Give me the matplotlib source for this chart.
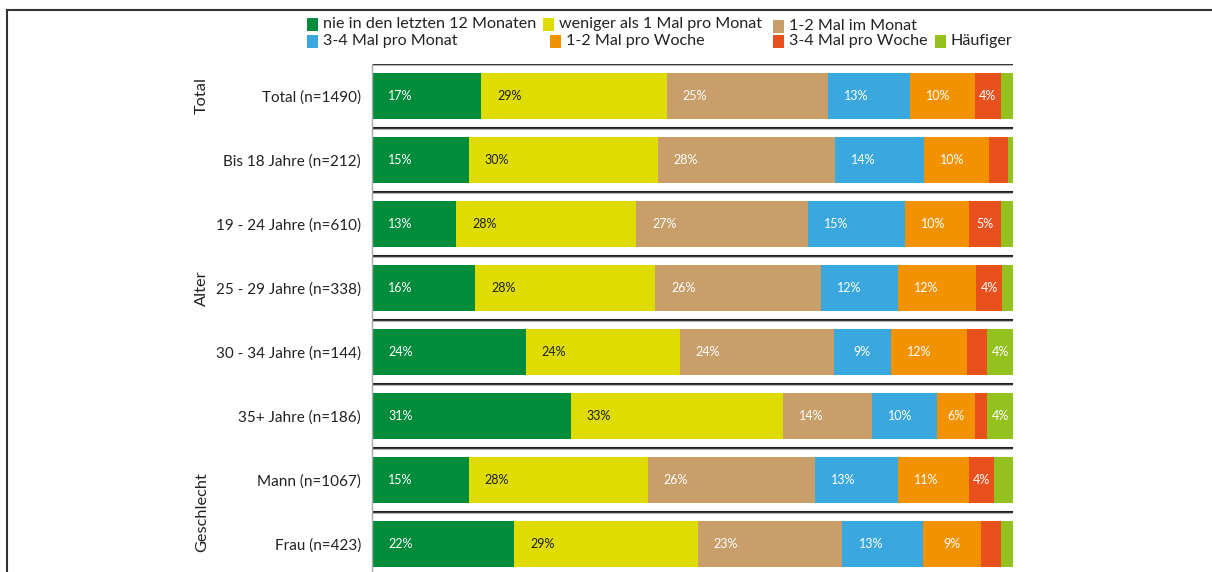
import matplotlib.pyplot as plt
from matplotlib.lines import Line2D
from matplotlib.patches import Rectangle

plt.rcParams['font.family'] = ['Lato', 'DejaVu Sans']

categories = ['Total (n=1490)', 'Bis 18 Jahre (n=212)', '19 - 24 Jahre (n=610)',
              '25 - 29 Jahre (n=338)', '30 - 34 Jahre (n=144)', '35+ Jahre (n=186)',
              'Mann (n=1067)', 'Frau (n=423)']
series = ['nie in den letzten 12 Monaten', 'weniger als 1 Mal pro Monat', '1-2 Mal im Monat',
          '3-4 Mal pro Monat', '1-2 Mal pro Woche', '3-4 Mal pro Woche', 'Häufiger']
colors = ['#008c3a', '#dedc00', '#c89e6a', '#3aa8df', '#f39200', '#e8501e', '#95c11f']
text_colors = ['white', '#222222', 'white', 'white', 'white', 'white', 'white']

# one row per category, one column per series (percent)
values = [
    [17.0, 29.0, 25.1, 12.9, 10.0, 4.1, 1.9],
    [15.1, 29.5, 27.6, 13.9, 10.1, 3.0, 0.8],
    [13.1, 28.1, 26.8, 15.1, 10.0, 5.0, 1.9],
    [16.1, 28.1, 25.9, 11.9, 12.2, 4.1, 1.7],
    [24.0, 24.0, 24.0, 8.9, 12.0, 3.1, 4.0],
    [31.0, 33.1, 13.9, 10.1, 5.9, 2.0, 4.0],
    [15.1, 27.9, 26.1, 12.9, 11.1, 3.9, 3.0],
    [22.2, 28.6, 22.6, 12.6, 9.0, 3.1, 1.9],
]

groups = ['Total', 'Alter', 'Geschlecht']
group_rows = [(0, 0), (1, 5), (6, 7)]

fig = plt.figure(figsize=(12.12, 5.72), dpi=100)
ax = fig.add_axes([372 / 1212, 0, 641 / 1212, 1 - 64 / 572])

for i, row in enumerate(values):
    left = 0
    for j, v in enumerate(row):
        ax.barh(i, v, left=left, height=0.72, color=colors[j], linewidth=0)
        if v >= 3.5:
            ax.text(left + min(4.4, v / 2), i, f'{v:.0f}%', ha='center', va='center',
                    fontsize=9, color=text_colors[j])
        left += v
    # separator above each row
    ax.plot([0, 100], [i - 0.5, i - 0.5], color='#222222', lw=1.5, solid_capstyle='butt')
    ax.plot([0, 100], [i - 0.48, i - 0.48], color='#bbbbbb', lw=0.9, solid_capstyle='butt')

ax.set_xlim(0, 100)
ax.set_ylim(7 + 28 / 64, -0.5)
ax.set_yticks(range(len(categories)))
ax.set_yticklabels(categories, fontsize=11, color='#222222')
ax.tick_params(axis='y', length=0, pad=8)
ax.set_xticks([])
for s in ['top', 'right', 'bottom']:
    ax.spines[s].set_visible(False)
ax.spines['left'].set_color('#aaaaaa')
ax.spines['left'].set_linewidth(1.0)

for name, (a, b) in zip(groups, group_rows):
    ax.text(-26.5, (a + b) / 2, name, rotation=90, ha='center', va='center',
            fontsize=11.8, color='#222222', transform=ax.transData, clip_on=False)

# legend, two rows laid out by hand
legend_pos = [(307, 24), (543, 24), (773, 26), (307, 41), (550, 41), (773, 41), (935, 41)]
for (px, py), name, c in zip(legend_pos, series, colors):
    fig.add_artist(Rectangle((px / 1212, 1 - (py + 7) / 572), 11 / 1212, 13 / 572,
                             transform=fig.transFigure, color=c, lw=0))
    fig.text((px + 16) / 1212, 1 - py / 572, name, ha='left', va='center',
             fontsize=11.6, color='#222222')

# outer frame lines
fig.add_artist(Line2D([7 / 1212, 1], [1 - 10 / 572, 1 - 10 / 572],
                      transform=fig.transFigure, color='#333333', lw=1.5))
fig.add_artist(Line2D([7 / 1212, 7 / 1212], [0, 1 - 10 / 572],
                      transform=fig.transFigure, color='#333333', lw=1.5))

fig.savefig('out.png', dpi=100)
